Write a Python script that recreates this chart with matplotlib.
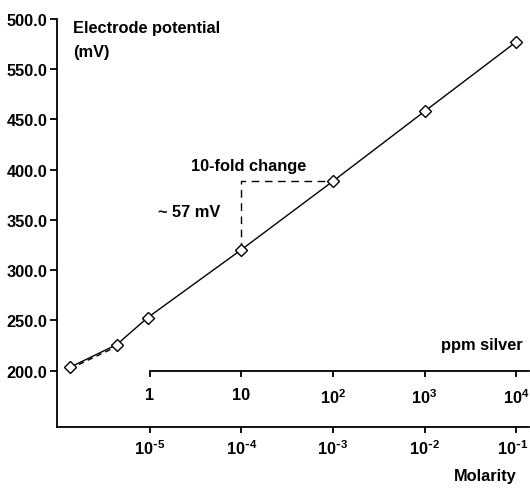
import matplotlib
matplotlib.use("Agg")
import matplotlib.pyplot as plt
import matplotlib.transforms as mtransforms

plt.rcParams['font.family'] = ['Liberation Sans', 'DejaVu Sans']
plt.rcParams['font.weight'] = 'bold'

# measured points (x in ppm silver, y in mV)
ppm = [0.134, 0.433, 0.944, 10, 100, 1000, 10000]
mv = [203.4, 225.9, 252.8, 320.5, 388.6, 458.0, 527.1]

# dashed guide near the start of the curve
guide_x = [0.134, 0.37]
guide_y = [202.0, 221.0]

# 10-fold change marker
step_x = [10, 10, 100]
step_y = [320.5, 388.6, 388.6]

y_ticks = [200, 250, 300, 350, 400, 450, 500, 550]
y_labels = ['200.0', '250.0', '300.0', '350.0', '400.0', '450.0', '550.0', '500.0']

ppm_ticks = [1, 10, 100, 1000, 10000]
ppm_labels = ['1', '10', r'$\mathregular{10^2}$', r'$\mathregular{10^3}$', r'$\mathregular{10^4}$']
mol_exp = ['5', '4', '3', '2', '1']
mol_labels = [r'$\mathregular{10^{\text{-}%s}}$' % e for e in mol_exp]

FS = 11.8
W, H = 530, 489
fig = plt.figure(figsize=(W / 100, H / 100), dpi=100)
ax = fig.add_axes([57.3 / W, 1 - 428.3 / H, (529 - 57.3) / W, (428.3 - 19.5) / H])

xmin, xmax = 10 ** -1.013, 10 ** 4.142
ax.set_xscale('log')
ax.set_xlim(xmin, xmax)
ax.set_ylim(143.6, 550.5)

ax.plot(ppm, mv, '-', color='black', lw=1.0, marker='D', ms=6.5,
        mfc='white', mec='black', mew=1.0, zorder=3)
ax.plot(guide_x, guide_y, color='black', lw=1.0, ls=(0, (4, 3)))
ax.plot(step_x, step_y, color='black', lw=1.0, ls=(0, (5.5, 4)), zorder=2)

for s in ['top', 'right']:
    ax.spines[s].set_visible(False)
for s in ['left', 'bottom']:
    ax.spines[s].set_linewidth(1.3)

ax.set_yticks(y_ticks)
ax.set_yticklabels(y_labels)
ax.set_xticks(ppm_ticks)
ax.set_xticklabels(mol_labels)
ax.minorticks_off()
ax.tick_params(axis='y', direction='out', length=5, width=1.3, pad=2, labelsize=FS)
ax.tick_params(axis='x', direction='out', length=4, width=1.3, pad=4, labelsize=FS)

# keep the last molarity label inside the figure
last = ax.get_xticklabels()[-1]
last.set_transform(last.get_transform() +
                   mtransforms.ScaledTranslation(-3 / 100, 0, fig.dpi_scale_trans))

# ppm silver axis drawn inside the plot at 200 mV
ax2 = ax.twiny()
ax2.set_xscale('log')
ax2.set_xlim(xmin, xmax)
for s in ['top', 'right', 'left']:
    ax2.spines[s].set_visible(False)
ax2.spines['bottom'].set_position(('data', 200))
ax2.spines['bottom'].set_bounds(1, xmax)
ax2.spines['bottom'].set_linewidth(1.3)
ax2.xaxis.set_ticks_position('bottom')
ax2.xaxis.set_label_position('bottom')
ax2.set_xticks(ppm_ticks)
ax2.set_xticklabels(ppm_labels)
ax2.minorticks_off()
ax2.tick_params(axis='x', direction='out', length=4, width=1.3, pad=8, labelsize=FS)

fig.text(72.7 / W, 1 - 29 / H, 'Electrode potential', fontsize=FS, va='center', ha='left')
fig.text(72.7 / W, 1 - 52 / H, '(mV)', fontsize=FS, va='center', ha='left')
fig.text(190.7 / W, 1 - 167 / H, '10-fold change', fontsize=FS, va='center', ha='left')
fig.text(158 / W, 1 - 213 / H, '~ 57 mV', fontsize=FS, va='center', ha='left')
fig.text(523 / W, 1 - 346 / H, 'ppm silver', fontsize=FS, va='center', ha='right')
fig.text(517 / W, 1 - 476.7 / H, 'Molarity', fontsize=FS, va='center', ha='right')

fig.savefig('out.png', dpi=100)
